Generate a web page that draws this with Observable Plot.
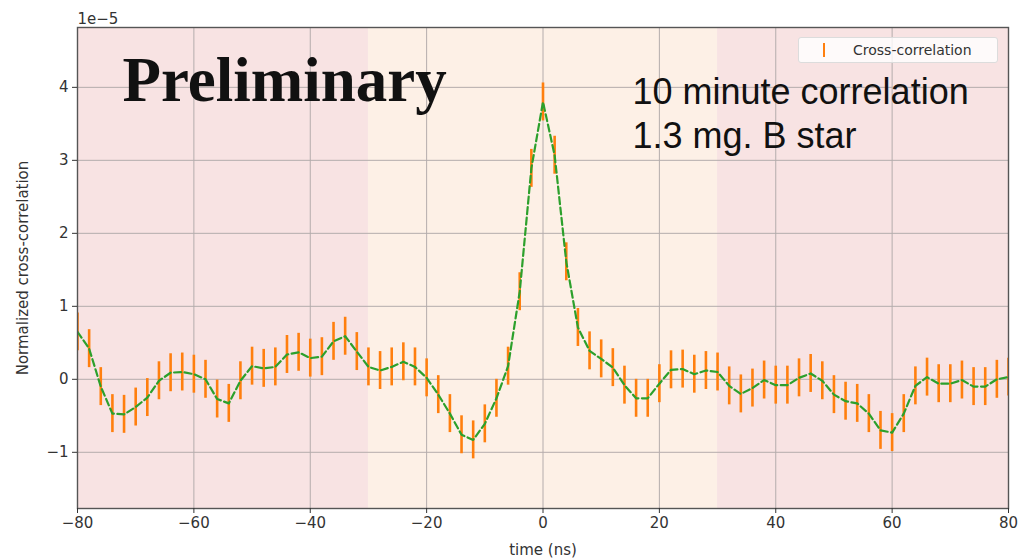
<!DOCTYPE html>
<html>
<head>
<meta charset="utf-8">
<script src="https://cdn.jsdelivr.net/npm/d3@7"></script>
<script src="https://cdn.jsdelivr.net/npm/@observablehq/plot@0.6"></script>
<style>
  html, body { margin: 0; padding: 0; background: #fff; }
  #wrap { position: relative; width: 1018px; height: 560px; overflow: hidden; }
  #legend {
    position: absolute; left: 798px; top: 37px; width: 200px; height: 26px;
    background: rgba(255,255,255,0.8); border: 1px solid #dcdcdc; border-radius: 3px;
    box-sizing: border-box; font-family: "DejaVu Sans", sans-serif; font-size: 14px; color: #333;
  }
  #legend .sym { position: absolute; left: 24px; top: 5px; width: 2px; height: 14px; background: #ff7f0e; }
  #legend .lab { position: absolute; left: 54px; top: 3px; line-height: 18px; white-space: nowrap; }
</style>
</head>
<body>
<div id="wrap"></div>
<script>
// time lags (ns)
const times = [-80,-78,-76,-74,-72,-70,-68,-66,-64,-62,-60,-58,-56,-54,-52,-50,-48,-46,-44,-42,-40,-38,-36,-34,-32,-30,-28,-26,-24,-22,-20,-18,-16,-14,-12,-10,-8,-6,-4,-2,0,2,4,6,8,10,12,14,16,18,20,22,24,26,28,30,32,34,36,38,40,42,44,46,48,50,52,54,56,58,60,62,64,66,68,70,72,74,76,78,80];
// normalized cross-correlation (units of 1e-5)
const values = [0.65,0.42,-0.10,-0.47,-0.48,-0.38,-0.25,-0.02,0.09,0.10,0.07,0.00,-0.27,-0.33,-0.02,0.18,0.15,0.17,0.34,0.37,0.29,0.31,0.52,0.59,0.38,0.17,0.12,0.17,0.24,0.17,0.02,-0.21,-0.47,-0.76,-0.83,-0.61,-0.26,0.18,1.20,2.89,3.80,3.07,1.61,0.71,0.39,0.28,0.16,-0.08,-0.26,-0.26,-0.06,0.13,0.14,0.07,0.12,0.10,-0.09,-0.20,-0.12,-0.01,-0.08,-0.08,0.02,0.08,-0.02,-0.21,-0.30,-0.33,-0.47,-0.70,-0.73,-0.47,-0.09,0.03,-0.06,-0.06,-0.01,-0.10,-0.10,0.00,0.03];
// error bar half-length (units of 1e-5)
const sigma = 0.26;
// shaded time windows
const bandStart = [-80, -30, 30];
const bandEnd = [-30, 30, 80];
const bandFill = ["#f8e3e3", "#fdf0e6", "#f8e3e3"];
// ticks
const xTicks = [-80, -60, -40, -20, 0, 20, 40, 60, 80];
const yTicks = [-1, 0, 1, 2, 3, 4];
// texts
const titleText = "Preliminary";
const noteText = "10 minute correlation\n1.3 mg. B star";
const scaleText = "1e\u22125";
const xLabel = "time (ns)";
const yLabel = "Normalized cross-correlation";
const legendLabel = "Cross-correlation";

const data = times.map((t, i) => ({t, v: values[i]}));
const bands = bandStart.map((s, i) => ({x1: s, x2: bandEnd[i], fill: bandFill[i]}));
const fmt = d3.format("d");

const chart = Plot.plot({
  width: 1018,
  height: 560,
  marginLeft: 77,
  marginRight: 10,
  marginTop: 27,
  marginBottom: 52,
  style: {fontFamily: "DejaVu Sans, sans-serif", fontSize: "15px", color: "#333", background: "white"},
  x: {domain: [-80, 80], ticks: xTicks},
  y: {domain: [-1.77, 4.82], ticks: yTicks},
  marks: [
    Plot.rect(bands, {x1: "x1", x2: "x2", fill: "fill"}),
    Plot.gridX(xTicks, {stroke: "#b4acac", strokeOpacity: 1, strokeWidth: 1}),
    Plot.gridY(yTicks, {stroke: "#b4acac", strokeOpacity: 1, strokeWidth: 1}),
    Plot.ruleX(data, {x: "t", y1: d => d.v - sigma, y2: d => d.v + sigma, stroke: "#ff7f0e", strokeWidth: 2.6, clip: true}),
    Plot.line(data, {x: "t", y: "v", stroke: "#2ca02c", strokeWidth: 2.2, strokeDasharray: "7,3.5", clip: true}),
    Plot.frame({stroke: "#555", strokeWidth: 1.4}),
    Plot.axisX(xTicks, {tickSize: 5, tickPadding: 4, fontSize: 15, tickFormat: fmt, label: xLabel, labelAnchor: "center", labelOffset: 46, labelArrow: "none"}),
    Plot.axisY(yTicks, {tickSize: 5, tickPadding: 4, fontSize: 15, tickFormat: fmt, label: yLabel, labelAnchor: "center", labelOffset: 60, labelArrow: "none"}),
    Plot.text([scaleText], {frameAnchor: "top-left", textAnchor: "start", lineAnchor: "bottom", dx: 0, dy: -4, fontSize: 15, fill: "#333"}),
    Plot.text([titleText], {frameAnchor: "top-left", textAnchor: "start", lineAnchor: "bottom", dx: 45, dy: 73,
      fontFamily: "Liberation Serif, serif", fontWeight: "bold", fontSize: 63, fill: "#111"}),
    Plot.text([noteText], {frameAnchor: "top-left", textAnchor: "start", lineAnchor: "bottom", dx: 555, dy: 120,
      fontFamily: "Liberation Sans, Arial, sans-serif", fontSize: 36, lineHeight: 1.22, fill: "#111"})
  ]
});

const wrap = document.getElementById("wrap");
wrap.appendChild(chart);
const legend = document.createElement("div");
legend.id = "legend";
legend.innerHTML = '<div class="sym"></div><div class="lab"></div>';
legend.querySelector(".lab").textContent = legendLabel;
wrap.appendChild(legend);
</script>
</body>
</html>
